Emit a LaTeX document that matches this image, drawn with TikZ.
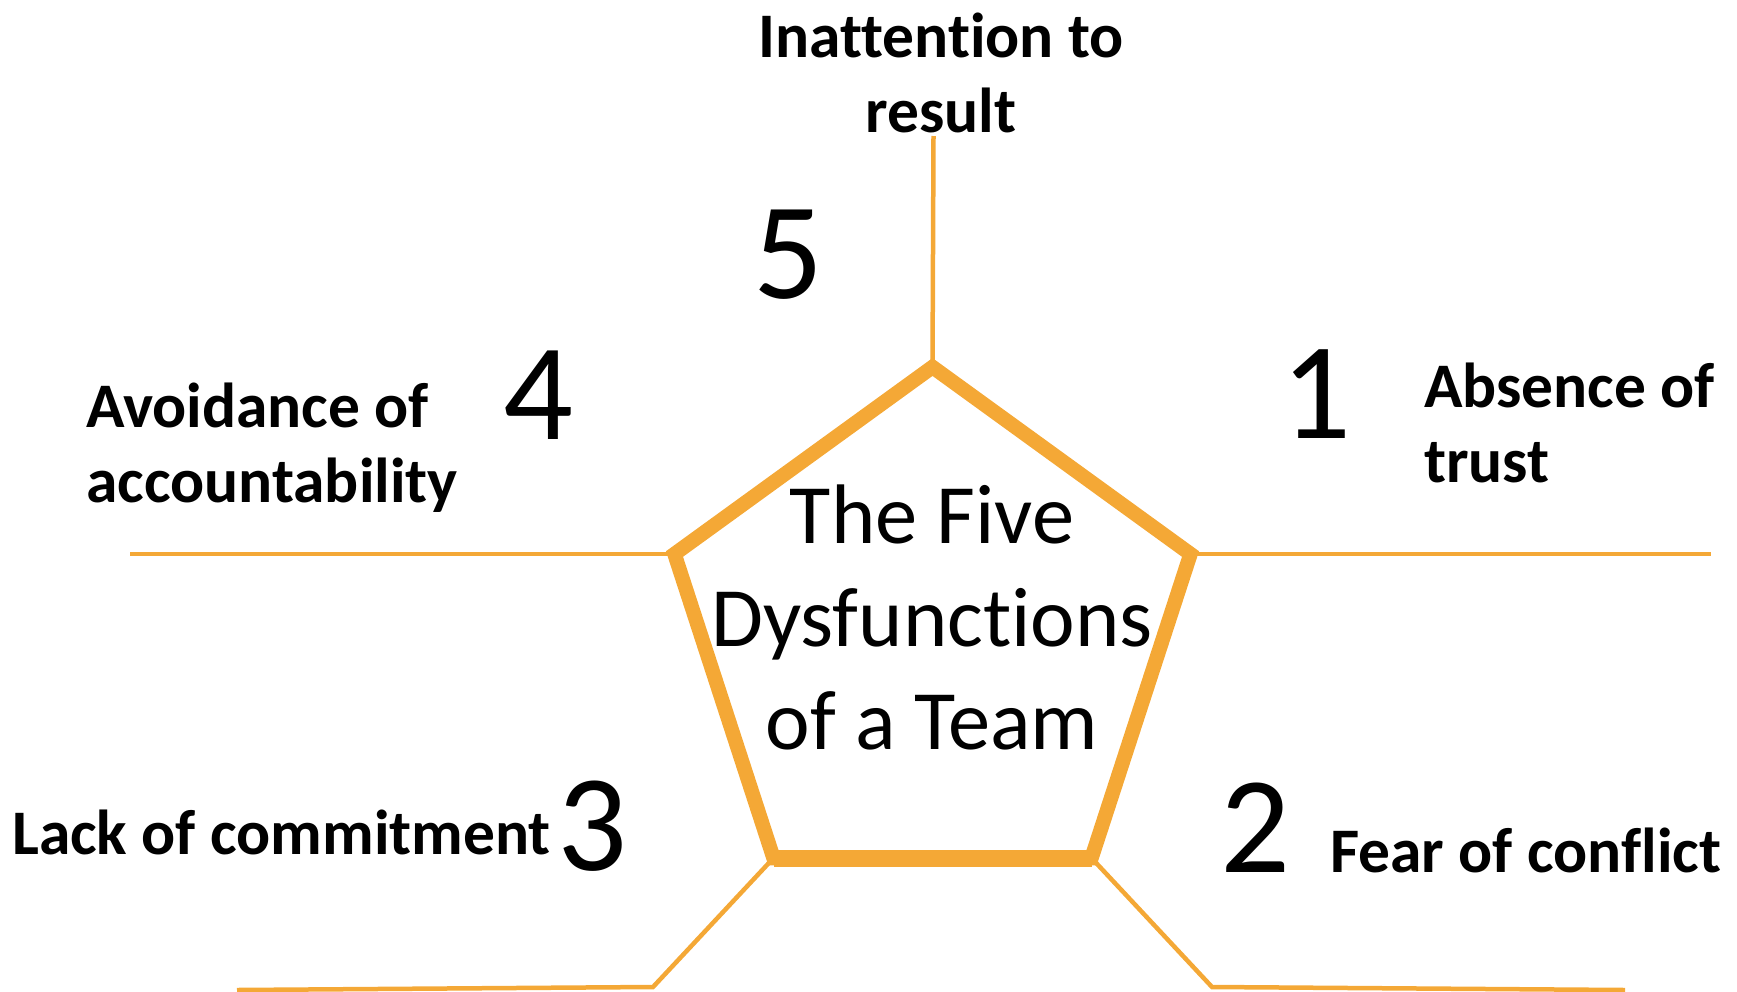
\documentclass[tikz,border=0pt]{standalone}
\usepackage{fontspec}
\setmainfont[Ligatures={NoCommon,NoRequired,NoContextual}]{Carlito}
\definecolor{penta}{HTML}{F4A836}
\begin{document}
\begin{tikzpicture}[x=1pt,y=-1pt,
  thinline/.style={draw=penta,line width=4.5pt},
  boldlabel/.style={inner sep=0pt,font=\fontsize{63.5}{75}\selectfont\bfseries},
  bignum/.style={inner sep=0pt,anchor=base,font=\fontsize{138}{140}\selectfont},
  title/.style={inner sep=0pt,align=center,font=\fontsize{84.5}{103}\selectfont}]
\useasboundingbox (0,0) rectangle (1737,991);
% pentagon vertices
\coordinate (top) at (932.5,367);
\coordinate (rt) at (1190.5,554);
\coordinate (lt) at (674.5,554);
\coordinate (bl) at (773.5,858);
\coordinate (br) at (1091.5,858);
% free ends of thin lines
\coordinate (topend) at (933.5,136);
\coordinate (rtend) at (1711,554);
\coordinate (ltend) at (130,554);
\coordinate (blmid) at (653,987);
\coordinate (blend) at (237,990);
\coordinate (brmid) at (1212,987);
\coordinate (brend) at (1625,990);
% thin lines
\draw[thinline] (top) -- (topend);
\draw[thinline] (rt) -- (rtend);
\draw[thinline] (lt) -- (ltend);
\draw[thinline] (bl) -- (blmid) -- (blend);
\draw[thinline] (br) -- (brmid) -- (brend);
% pentagon
\draw[draw=penta,line width=14.5pt,line join=miter] (top) -- (rt) -- (br) -- (bl) -- (lt) -- cycle;
\draw[draw=penta,line width=17pt] (bl) -- (br);
% centre text
\node[title] (ttl) at (932,617) {The Five\\Dysfunctions\\of a Team};
% numbers
\node[bignum] (n5) at (788,298) {5};
\node[bignum] (n4) at (538,439) {4};
\node[bignum] (n1) at (1316,438) {1};
\node[bignum] (n2) at (1255,872) {2};
\node[bignum] (n3) at (592,870) {3};
% labels
\node[boldlabel,align=center] (l5) at (941,73) {Inattention to\\result};
\node[boldlabel,align=left,anchor=west] (l4) at (86,448) {Avoidance of\\accountability};
\node[boldlabel,align=left,anchor=west] (l1) at (1424,423) {Absence of\\trust};
\node[boldlabel,anchor=base west] (l3) at (12,854) {Lack of commitment};
\node[boldlabel,anchor=base west] (l2) at (1330,872) {Fear of conflict};
\end{tikzpicture}
\end{document}
